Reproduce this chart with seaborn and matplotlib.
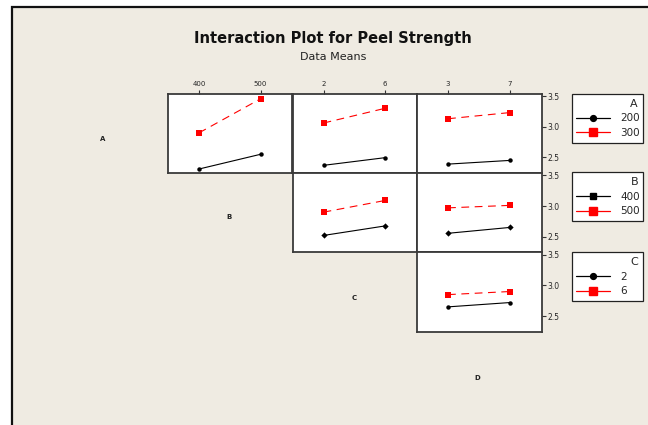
import matplotlib
matplotlib.use("Agg")
import matplotlib.pyplot as plt
from matplotlib.lines import Line2D
from matplotlib.patches import Rectangle
import numpy as np
import pandas as pd
import seaborn as sns

sns.set_theme(style="white")
plt.rcParams["font.family"] = ["DejaVu Sans"]

# factor levels
factors = ["A", "B", "C", "D"]
levels_A = [200, 300]
levels_B = [400, 500]
levels_C = [2, 6]
levels_D = [3, 7]

# data means of Peel Strength: trace factor level -> means at the two x-factor levels
mean_A_by_B = {200: [2.31, 2.55], 300: [2.90, 3.455]}
mean_A_by_C = {200: [2.37, 2.495], 300: [3.06, 3.30]}
mean_A_by_D = {200: [2.39, 2.45], 300: [3.13, 3.23]}
mean_B_by_C = {400: [2.52, 2.675], 500: [2.90, 3.09]}
mean_B_by_D = {400: [2.555, 2.65], 500: [2.97, 3.01]}
mean_C_by_D = {2: [2.65, 2.72], 6: [2.85, 2.90]}

y_ticks = [2.5, 3.0, 3.5]

levels = {"A": levels_A, "B": levels_B, "C": levels_C, "D": levels_D}
panels = {
    ("A", "B"): mean_A_by_B, ("A", "C"): mean_A_by_C, ("A", "D"): mean_A_by_D,
    ("B", "C"): mean_B_by_C, ("B", "D"): mean_B_by_D,
    ("C", "D"): mean_C_by_D,
}

W, H = 648, 425
fig = plt.figure(figsize=(W / 100, H / 100), dpi=100)
fig.patch.set_facecolor("white")

# beige framed background
fig.patches.append(Rectangle((12 / W, -0.05), 1.1, (H - 7) / H + 0.05,
                             transform=fig.transFigure, facecolor="#EFEBE2",
                             edgecolor="#111111", linewidth=1.6, zorder=-5))

fig.text(333 / W, 1 - 38 / H, "Interaction Plot for Peel Strength", ha="center",
         va="center", fontsize=10.5, fontweight="bold", color="#111111")
fig.text(333 / W, 1 - 57 / H, "Data Means", ha="center", va="center",
         fontsize=8, color="#222222")


def px_rect(left, top, w, h):
    return [left / W, 1 - (top + h) / H, w / W, h / H]


col_left = [168, 292.5, 417]
col_w = 124.5
row_top = [93.6, 172.9, 252.3]
row_h = 79.4
ylim = (2.245, 3.54)
red = "#FF0000"

marker_lo = {"A": "o", "B": "D", "C": "o"}

for (tr, xf), means in panels.items():
    i = factors.index(tr)
    j = factors.index(xf) - 1
    ax = fig.add_axes(px_rect(col_left[j], row_top[i], col_w, row_h))
    ax.set_facecolor("white")
    lo, hi = levels[tr]
    xl = levels[xf]
    rows = []
    for lev in (lo, hi):
        for xv, m in zip(xl, means[lev]):
            rows.append({"x": xv, "mean": m, "trace": str(lev)})
    df = pd.DataFrame(rows)
    sns.lineplot(data=df, x="x", y="mean", hue="trace", style="trace",
                 hue_order=[str(lo), str(hi)], style_order=[str(lo), str(hi)],
                 palette={str(lo): "black", str(hi): red},
                 markers={str(lo): marker_lo[tr], str(hi): "s"},
                 dashes={str(lo): "", str(hi): (7, 5)},
                 linewidth=0.8, markeredgewidth=0, ax=ax, legend=False)
    for ln in ax.lines:
        if ln.get_color() == red:
            ln.set_markersize(3.8)
        else:
            ln.set_markersize(3.2)
    span = xl[1] - xl[0]
    ax.set_xlim(xl[0] - 0.505 * span, xl[1] + 0.52 * span)
    ax.set_ylim(*ylim)
    ax.set_xlabel("")
    ax.set_ylabel("")
    for s in ax.spines.values():
        s.set_color("#3a3a3a")
        s.set_linewidth(1.3)
    ax.set_xticks(xl)
    ax.set_yticks(y_ticks)
    ax.tick_params(axis="x", top=(i == 0), bottom=False, labeltop=(i == 0),
                   labelbottom=False, length=3, width=0.8, color="#333333",
                   labelsize=5, pad=2, direction="out")
    ax.tick_params(axis="y", left=False, right=(j == 2), labelleft=False,
                   labelright=(j == 2), length=3, width=0.8, color="#333333",
                   labelsize=5.5, pad=1.5, direction="out")
    if i == 0:
        ax.set_xticklabels([str(v) for v in xl])
    ax.set_yticklabels([f"{v:.1f}" for v in y_ticks])

# factor names along the diagonal
diag_pos = [(103, 139), (229, 217), (354, 298), (477, 378)]
for name, (px, py) in zip(factors, diag_pos):
    fig.text(px / W, 1 - py / H, name, ha="center", va="center", fontsize=5,
             fontweight="bold", color="#222222")

# legends for each trace factor
legend_top = [94, 172.3, 252.3]
legend_marker_lo = {"A": "o", "B": "s", "C": "o"}
for i, tr in enumerate(["A", "B", "C"]):
    lo, hi = levels[tr]
    handles = [
        Line2D([], [], color="black", lw=0.9, marker=legend_marker_lo[tr],
               markersize=4.2),
        Line2D([], [], color=red, lw=0.9, marker="s", markersize=5.5),
    ]
    leg = fig.legend(handles, [str(lo), str(hi)], title=tr,
                     loc="upper left",
                     bbox_to_anchor=(571.7 / W, 1 - (legend_top[i] + 50) / H,
                                     71 / W, 50 / H),
                     mode="expand", fontsize=7.5, title_fontsize=8,
                     frameon=True, fancybox=False, handlelength=3.2,
                     handletextpad=1.0, borderpad=0.45, labelspacing=0.45,
                     borderaxespad=0, alignment="right")
    fr = leg.get_frame()
    fr.set_edgecolor("#222222")
    fr.set_linewidth(0.9)
    fr.set_facecolor("white")
    fr.set_alpha(1)

fig.savefig("out.png", dpi=100, facecolor=fig.get_facecolor())
